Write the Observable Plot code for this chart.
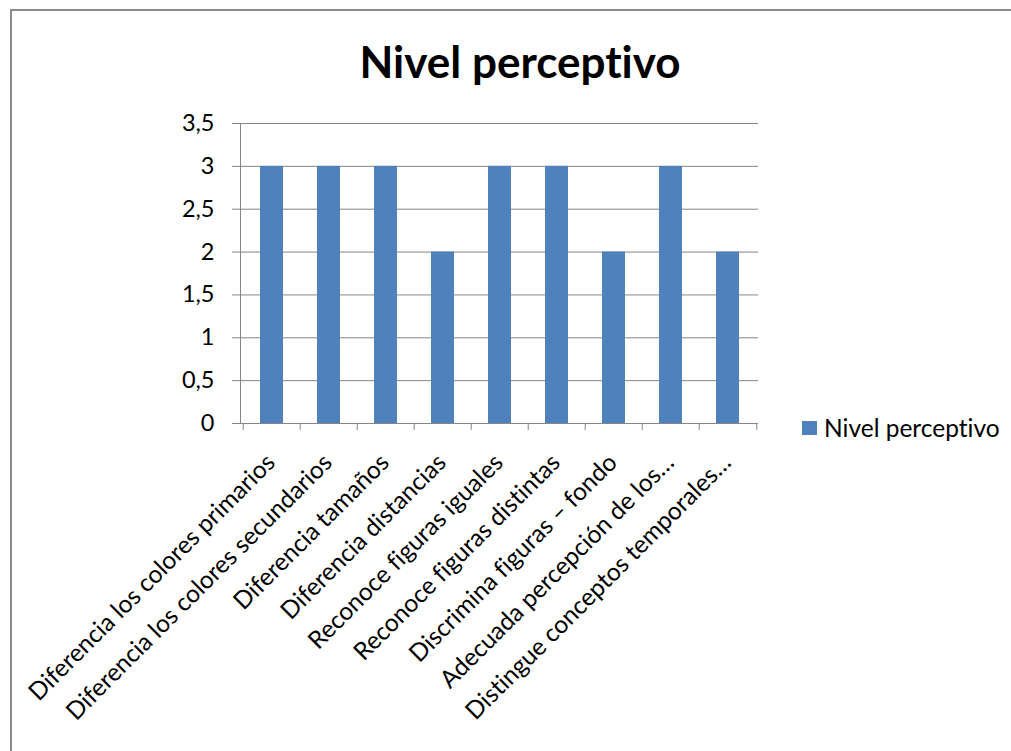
<!DOCTYPE html>
<html lang="es">
<head>
<meta charset="utf-8">
<title>Nivel perceptivo</title>
<script src="https://cdn.jsdelivr.net/npm/d3@7"></script>
<script src="https://cdn.jsdelivr.net/npm/@observablehq/plot@0.6"></script>
<style>
  html, body { margin: 0; padding: 0; background: #fff; }
  #chart { position: relative; width: 1011px; height: 751px; overflow: hidden; font-family: Lato, "Open Sans", sans-serif; color: #000; font-variant-ligatures: none; }
  #frame { position: absolute; left: 10px; top: 9px; width: 1100px; height: 900px; border-top: 2px solid #8c8c8c; border-left: 2px solid #8c8c8c; }
  #title { position: absolute; left: 0; top: 39px; width: 1040px; text-align: center; font-weight: 700; font-size: 44px; line-height: 44px; }
  #plot { position: absolute; left: 0; top: 100px; }
  #plot svg text { font-variant-ligatures: none; }
  #legend { position: absolute; left: 802px; top: 415px; display: flex; align-items: center; font-size: 24.5px; line-height: 26px; white-space: nowrap; }
  #legend .swatch { width: 15px; height: 14px; margin-right: 7px; }
</style>
</head>
<body>
<div id="chart">
  <div id="frame"></div>
  <div id="title"></div>
  <div id="plot"></div>
  <div id="legend"></div>
</div>
<script>
// Items evaluated at the perceptual level and the score of each one
const categorias = [
  "Diferencia los colores primarios",
  "Diferencia los colores secundarios",
  "Diferencia tamaños",
  "Diferencia distancias",
  "Reconoce figuras iguales",
  "Reconoce figuras distintas",
  "Discrimina figuras – fondo",
  "Adecuada percepción de los…",
  "Distingue conceptos temporales…"
];
const valores = [3, 3, 3, 2, 3, 3, 2, 3, 2];
const marcasY = [0, 0.5, 1, 1.5, 2, 2.5, 3, 3.5];
const serie = "Nivel perceptivo";
const tituloGrafico = "Nivel perceptivo";

const datos = categorias.map((categoria, i) => ({categoria, valor: valores[i]}));

const azul = "#4F81BD";
const gris = "#868686";
const coma = (d) => String(d).replace(".", ",");

// plot frame geometry
const ancho = 1011, alto = 651;
const mTop = 23, mBottom = 328, mLeft = 240, mRight = 253;
const paso = (ancho - mLeft - mRight) / categorias.length;

const grafico = Plot.plot({
  width: ancho,
  height: alto,
  marginTop: mTop,
  marginBottom: mBottom,
  marginLeft: mLeft,
  marginRight: mRight,
  style: {fontFamily: "Lato, 'Open Sans', sans-serif", fontSize: "24px", color: "#000", background: "transparent", overflow: "visible"},
  x: {domain: categorias, paddingInner: 0.6, paddingOuter: 0.3, axis: null},
  y: {domain: [0, 3.5], axis: null},
  marks: [
    // horizontal gridlines with outward tick marks
    Plot.ruleY(marcasY, {y: (d) => d, stroke: gris, strokeWidth: 1, insetLeft: -8}),
    // vertical value axis line
    Plot.frame({anchor: "left", stroke: gris, strokeWidth: 1}),
    // category boundary ticks below the axis
    Plot.ruleX(categorias, {x: (d) => d, dx: -paso / 2, y1: 0, y2: 0, insetBottom: -7, stroke: gris, strokeWidth: 1}),
    Plot.ruleX(categorias.slice(-1), {x: (d) => d, dx: paso / 2, y1: 0, y2: 0, insetBottom: -7, stroke: gris, strokeWidth: 1}),
    // bars
    Plot.barY(datos, {x: "categoria", y: "valor", fill: azul}),
    // value axis labels
    Plot.text(marcasY, {y: (d) => d, text: coma, frameAnchor: "left", textAnchor: "end", dx: -26, fill: "#000", fontSize: 23.5}),
    // rotated category labels
    Plot.text(datos, {x: "categoria", y: () => 0, text: "categoria", rotate: -45, textAnchor: "end", dx: -1, dy: 35, fill: "#000", fontSize: 24.5})
  ]
});

document.getElementById("plot").appendChild(grafico);
document.getElementById("title").textContent = tituloGrafico;

const leyenda = document.getElementById("legend");
const muestra = document.createElement("div");
muestra.className = "swatch";
muestra.style.background = azul;
const etiqueta = document.createElement("span");
etiqueta.textContent = serie;
leyenda.append(muestra, etiqueta);
</script>
</body>
</html>
